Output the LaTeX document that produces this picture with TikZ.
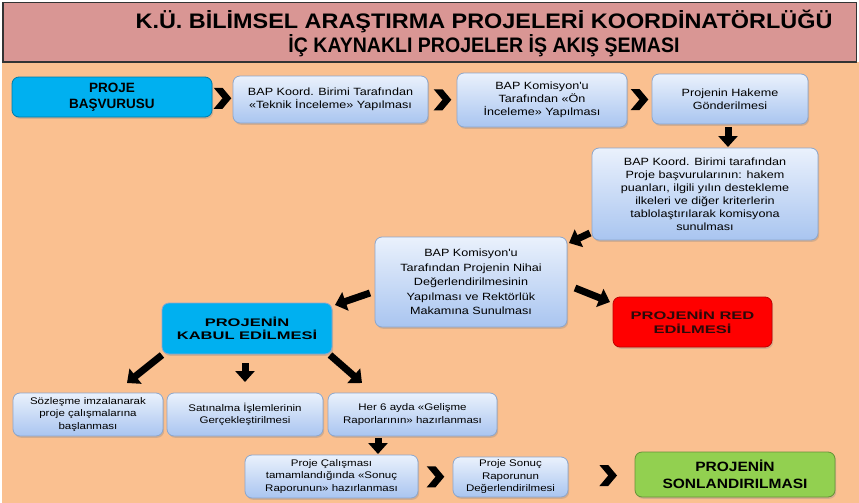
\documentclass[tikz,border=0pt]{standalone}
\usepackage{fontspec}
\setmainfont{Liberation Sans}
\newfontfamily\boxfont[FakeStretch=1.2]{Liberation Sans}
\newfontfamily\wideboldfont[FakeStretch=1.5]{Liberation Sans}
\newfontfamily\greenfont[FakeStretch=1.15]{Liberation Sans}
\newfontfamily\titleAfont[FakeStretch=1.115]{Liberation Sans}
\newfontfamily\titleBfont[FakeStretch=0.93]{Liberation Sans}
\usetikzlibrary{shapes.symbols,arrows.meta,shadows,calc}

\definecolor{bandpink}{HTML}{D99694}
\definecolor{bgorange}{HTML}{FAC090}
\definecolor{boxtop}{HTML}{EAF1FC}
\definecolor{boxbot}{HTML}{A9C5F0}
\definecolor{boxline}{HTML}{8CA6CC}
\definecolor{cyanbox}{HTML}{00B0F0}
\definecolor{redbox}{HTML}{FF0000}
\definecolor{greenbox}{HTML}{92D050}
\definecolor{redtext}{HTML}{2B0A0A}

\begin{document}
\begin{tikzpicture}[x=1pt,y=-1pt,
  every node/.style={inner sep=0pt, outer sep=0pt},
  softshadow/.style={drop shadow={shadow xshift=1.2pt, shadow yshift=-1.8pt, opacity=0.3}},
  flowbox/.style={draw=boxline, line width=0.8pt, rounded corners=7pt,
    top color=boxtop, bottom color=boxbot, align=center, softshadow,
    font=\boxfont\fontsize{10.5}{13}\selectfont},
  smallbox/.style={flowbox, font=\boxfont\fontsize{9.6}{12.5}\selectfont},
  keybox/.style={line width=0.8pt, rounded corners=7pt, align=center, softshadow},
  chev/.style={signal, signal to=east, signal from=west, signal pointer angle=100,
    fill=black, minimum width=16pt, minimum height=21pt},
  bigarrow/.style={line width=7pt, -{Triangle[width=19pt,length=11pt]}}
]
\useasboundingbox (0,0) rectangle (859,503);
\fill[white] (0,0) rectangle (859,503);
\fill[bgorange] (2,62) rectangle (859,503);
\draw[fill=bandpink, draw=black!80, line width=1.2pt] (3,2.5) rectangle (856.5,62);

\node[font=\titleAfont\bfseries\fontsize{21}{24}\selectfont] (t1) at (484,21)
  {K.Ü. BİLİMSEL ARAŞTIRMA PROJELERİ KOORDİNATÖRLÜĞÜ};
\node[font=\titleBfont\bfseries\fontsize{21}{24}\selectfont] (t2) at (484,46)
  {İÇ KAYNAKLI PROJELER İŞ AKIŞ ŞEMASI};

% top row
\node[keybox, fill=cyanbox, draw=cyanbox!70!black, minimum width=200pt, minimum height=40pt,
  font=\bfseries\fontsize{13.5}{15.5}\selectfont] (b1) at (112,97) {PROJE\\BAŞVURUSU};
\node[flowbox, minimum width=195pt, minimum height=47pt] (b2) at (330.5,99.5)
  {BAP Koord. Birimi Tarafından\\«Teknik İnceleme» Yapılması};
\node[flowbox, minimum width=170pt, minimum height=54pt] (b3) at (542,100)
  {BAP Komisyon'u\\Tarafından «Ön\\İnceleme» Yapılması};
\node[flowbox, minimum width=156pt, minimum height=50pt] (b4) at (730,99)
  {Projenin Hakeme\\Gönderilmesi};

\node[flowbox, minimum width=226pt, minimum height=92pt] (b5) at (705,194)
  {BAP Koord. Birimi tarafından\\Proje başvurularının: hakem\\puanları, ilgili yılın destekleme\\ilkeleri ve diğer kriterlerin\\tablolaştırılarak komisyona\\sunulması};
\node[flowbox, minimum width=192pt, minimum height=90pt, font=\boxfont\fontsize{10.5}{14.5}\selectfont] (b6) at (471,282)
  {BAP Komisyon'u\\Tarafından Projenin Nihai\\Değerlendirilmesinin\\Yapılması ve Rektörlük\\Makamına Sunulması};

\node[keybox, fill=cyanbox, draw=boxline, minimum width=170pt, minimum height=51pt,
  font=\wideboldfont\bfseries\fontsize{11}{13.5}\selectfont] (kabul) at (247,328.5)
  {PROJENİN\\KABUL EDİLMESİ};
\node[keybox, fill=redbox, draw=red!75!black, minimum width=159pt, minimum height=50pt,
  text=redtext, font=\wideboldfont\bfseries\fontsize{11}{14}\selectfont] (red) at (692.5,322)
  {PROJENİN RED\\EDİLMESİ};

% lower rows
\node[smallbox, minimum width=150pt, minimum height=43pt] (b9) at (88,414.5)
  {Sözleşme imzalanarak\\proje çalışmalarına\\başlanması};
\node[smallbox, minimum width=156pt, minimum height=43pt] (b10) at (245,414.5)
  {Satınalma İşlemlerinin\\Gerçekleştirilmesi};
\node[smallbox, minimum width=169pt, minimum height=43pt] (b11) at (412.5,414.5)
  {Her 6 ayda «Gelişme\\Raporlarının» hazırlanması};

\node[smallbox, minimum width=173pt, minimum height=43pt] (b12) at (331.5,476.5)
  {Proje Çalışması\\tamamlandığında «Sonuç\\Raporunun» hazırlanması};
\node[smallbox, minimum width=115pt, minimum height=40pt] (b13) at (510.5,477)
  {Proje Sonuç\\Raporunun\\Değerlendirilmesi};
\node[keybox, fill=greenbox, draw=greenbox!70!black, minimum width=200pt, minimum height=45pt,
  font=\greenfont\bfseries\fontsize{13.5}{17}\selectfont] (green) at (735,474.5)
  {PROJENİN\\SONLANDIRILMASI};

% chevrons
\node[chev] (c1) at ($(b1.east)!0.5!(b2.west)$) {};
\node[chev] (c2) at ($(b2.east)!0.5!(b3.west)$) {};
\node[chev] (c3) at ($(b3.east)!0.5!(b4.west)$) {};
\node[chev] (c4) at ($(b12.east)!0.5!(b13.west)$) {};
\node[chev] (c5) at ($(b13.east)!0.6!(green.west)$) {};

% block arrows
\draw[bigarrow] ([shift={(-2,3)}]b4.south) -- ($(b4.south |- b5.north)+(-2,-1)$);
\draw[bigarrow] ([shift={(-2,-7)}]b5.south west) -- ([shift={(2,6)}]b6.north east);
\draw[bigarrow] ([shift={(-5,11)}]b6.west) -- ([shift={(3,2)}]kabul.north east);
\draw[bigarrow] ([shift={(8,6)}]b6.east) -- ([shift={(-3,5)}]red.north west);
\draw[bigarrow] ([shift={(0,1)}]kabul.south west) -- ([shift={(-36,-10)}]b9.north east);
\draw[bigarrow] ([shift={(-2,9)}]kabul.south) -- ([shift={(0,-11)}]b10.north);
\draw[bigarrow] ([shift={(-2,1)}]kabul.south east) -- ([shift={(34,-10)}]b11.north west);
\draw[bigarrow] ($(b11.south west)+(50,2)$) -- ($(b11.south west |- b12.north)+(50,-1)$);
\end{tikzpicture}
\end{document}
